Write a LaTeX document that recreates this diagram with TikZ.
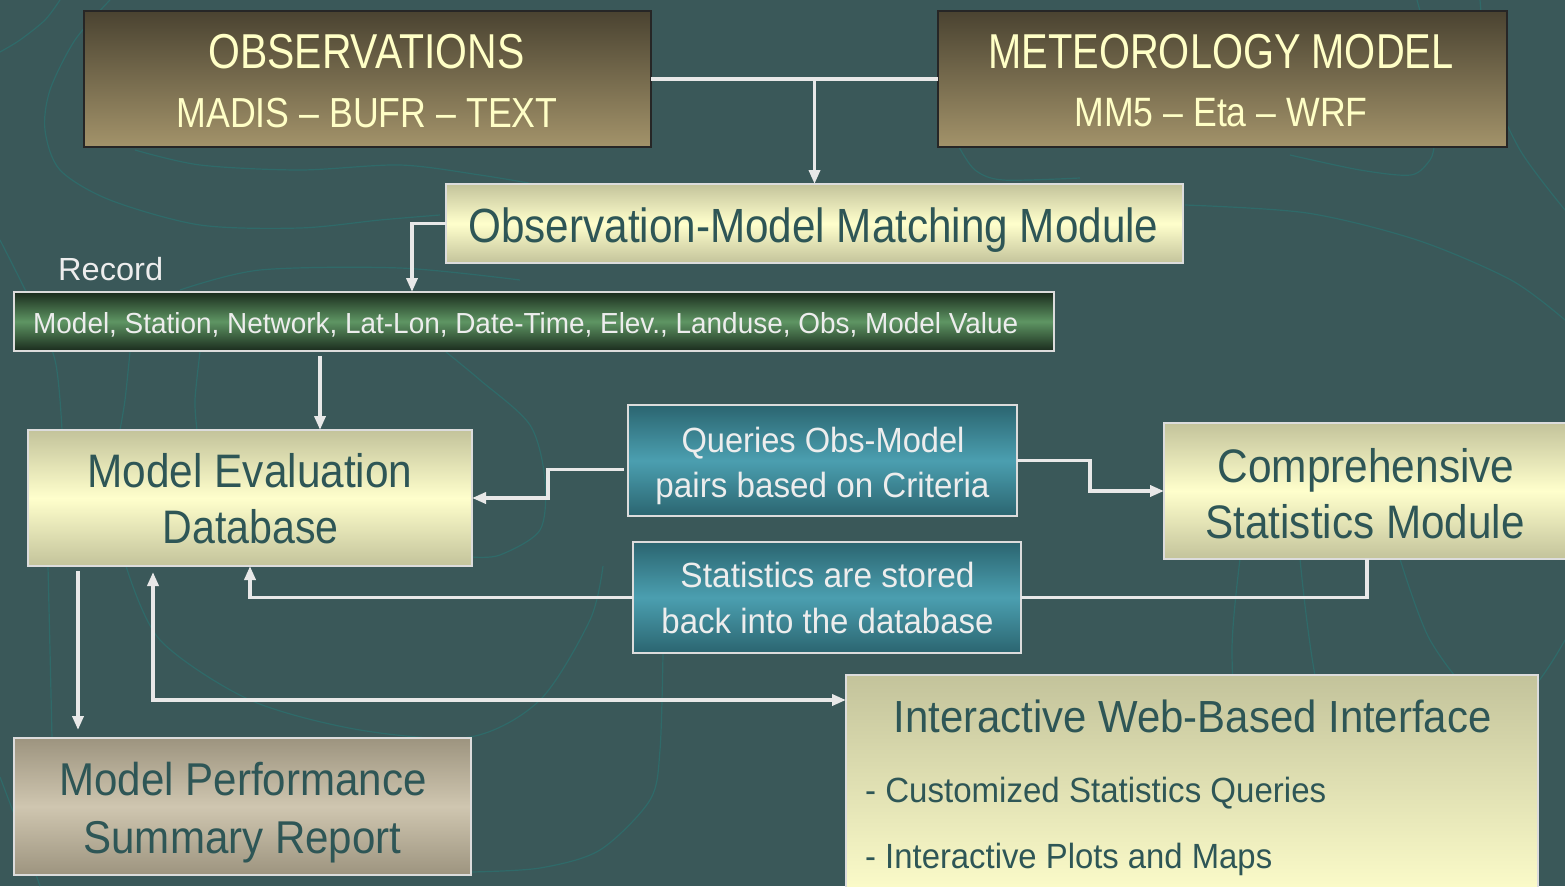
\documentclass[tikz,border=0pt]{standalone}
\usepackage{graphicx}
\usepackage{fontspec}
\setmainfont{Liberation Sans}[FakeStretch=0.82]
\usetikzlibrary{arrows.meta}

\definecolor{bg}{HTML}{3A5859}
\definecolor{contourc}{HTML}{2F6A69}
\definecolor{brownTop}{HTML}{4A4331}
\definecolor{brownBot}{HTML}{A3936A}
\definecolor{brownTxt}{HTML}{FFFFC6}
\definecolor{creamEdge}{HTML}{C3C39B}
\definecolor{creamMid}{HTML}{FFFFCC}
\definecolor{darkTxt}{HTML}{2E5656}
\definecolor{recEdge}{HTML}{1A2B1D}
\definecolor{recMid}{HTML}{5E9563}
\definecolor{tealEdge}{HTML}{2B6570}
\definecolor{tealMid}{HTML}{4B9FB0}
\definecolor{perfEdge}{HTML}{9D947F}
\definecolor{perfMid}{HTML}{CFC6B0}
\definecolor{edgeGray}{HTML}{DCDCDC}
\definecolor{lightTxt}{HTML}{EDEDED}
\definecolor{wireC}{HTML}{E8E8E8}

\newcommand\pxfont[1]{\fontsize{#1}{#1}\selectfont}
% set a line of text to a given width, keeping its height
\newcommand\fitw[2]{\resizebox{#1pt}{\height}{#2}}

\begin{document}
\begin{tikzpicture}[x=1pt,y=-1pt,
  box/.style={rectangle, inner sep=0pt, outer sep=0pt, line width=2.5pt},
  brownbox/.style={box, draw=black!85, top color=brownTop, bottom color=brownBot},
  creambox/.style={box, draw=edgeGray, top color=creamEdge, bottom color=creamEdge, middle color=creamMid},
  recbar/.style={box, draw=edgeGray, top color=recEdge, bottom color=recEdge, middle color=recMid},
  tealbox/.style={box, draw=edgeGray, top color=tealEdge, bottom color=tealEdge, middle color=tealMid},
  perfbox/.style={box, draw=edgeGray, top color=perfEdge, bottom color=perfEdge, middle color=perfMid},
  webbox/.style={box, draw=edgeGray, top color=creamEdge, bottom color=creamMid},
  txt/.style={anchor=base, inner sep=0pt},
  ltxt/.style={anchor=base west, inner sep=0pt},
  wire/.style={draw=wireC, line width=3.5pt},
  arr/.style={wire, -{Triangle[length=14pt,width=11pt]}},
  arrboth/.style={wire, {Triangle[length=14pt,width=11pt]}-{Triangle[length=14pt,width=11pt]}},
  contour/.style={draw=contourc, line width=1.2pt}
]
\useasboundingbox (0,0) rectangle (1565,886);
\fill[bg] (0,0) rectangle (1565,886);
\clip (0,0) rectangle (1565,886);

% faint contour lines of the backdrop
\draw[contour] plot[smooth] coordinates {(0,52) (20,40) (45,20) (60,0)};
\draw[contour] plot[smooth] coordinates {(110,0) (75,40) (50,90) (45,130) (60,170) (110,200) (200,225) (300,228) (380,220) (440,215)};
\draw[contour] plot[smooth] coordinates {(135,150) (200,165) (300,170) (400,165) (480,175) (540,185)};
\draw[contour] plot[smooth] coordinates {(0,240) (30,300) (55,360) (62,430)};
\draw[contour] plot[smooth] coordinates {(130,352) (125,400) (120,430)};
\draw[contour] plot[smooth] coordinates {(200,352) (195,400) (197,430)};
\draw[contour] plot[smooth] coordinates {(180,290) (260,270) (400,268) (520,280)};
\draw[contour] plot[smooth] coordinates {(446,352) (480,380) (530,425) (545,480) (540,530) (500,555) (472,557)};
\draw[contour] plot[smooth] coordinates {(959,147) (975,170) (1003,180) (1080,178)};
\draw[contour] plot[smooth] coordinates {(1290,155) (1360,170) (1411,175) (1430,160) (1434,147)};
\draw[contour] plot[smooth] coordinates {(1417,0) (1420,11)};
\draw[contour] plot[smooth] coordinates {(1480,0) (1490,80) (1520,150) (1565,210)};
\draw[contour] plot[smooth] coordinates {(1185,205) (1307,213) (1417,240) (1511,280) (1565,320)};
\draw[contour] plot[smooth] coordinates {(1240,559) (1232,650) (1240,760) (1270,886)};
\draw[contour] plot[smooth] coordinates {(1300,559) (1320,700) (1380,886)};
\draw[contour] plot[smooth] coordinates {(1400,559) (1430,640) (1480,700) (1530,690) (1565,640)};
\draw[contour] plot[smooth] coordinates {(126,566) (160,640) (250,700) (360,730) (470,737) (540,700) (590,620) (603,566)};
\draw[contour] plot[smooth] coordinates {(471,872) (540,868) (600,850) (650,800) (660,750) (663,653)};
\draw[contour] plot[smooth] coordinates {(48,566) (50,650) (52,738)};
\draw[contour] plot[smooth] coordinates {(0,777) (20,830) (40,886)};

% boxes
\node[brownbox, minimum width=567pt, minimum height=136pt] (obs) at (367.5,79) {};
\node[brownbox, minimum width=569pt, minimum height=136pt] (met) at (1222.5,79) {};
\node[creambox, minimum width=737pt, minimum height=79pt] (match) at (814.5,223.5) {};
\node[recbar, minimum width=1040pt, minimum height=59pt] (rec) at (534,321.5) {};
\node[creambox, minimum width=444pt, minimum height=136pt] (db) at (250,498) {};
\node[tealbox, minimum width=389pt, minimum height=111pt] (qry) at (822.5,460.5) {};
\node[creambox, minimum width=406pt, minimum height=136pt] (comp) at (1367,491) {};
\node[tealbox, minimum width=388pt, minimum height=111pt] (stat) at (827,597.5) {};
\node[perfbox, minimum width=457pt, minimum height=137pt] (perf) at (242.5,806.5) {};
\node[webbox, minimum width=692pt, minimum height=230pt] (web) at (1192,790) {};

% texts
\node[txt, text=brownTxt, font=\pxfont{49}] (obsA) at (366.5,68) {\fitw{316}{OBSERVATIONS}};
\node[txt, text=brownTxt, font=\pxfont{42}] (obsB) at (367,127) {\fitw{381}{MADIS \textendash{} BUFR \textendash{} TEXT}};
\node[txt, text=brownTxt, font=\pxfont{49}] (metA) at (1221,68) {\fitw{465}{METEOROLOGY MODEL}};
\node[txt, text=brownTxt, font=\pxfont{41}] (metB) at (1221,126) {\fitw{293}{MM5 \textendash{} Eta \textendash{} WRF}};
\node[txt, text=darkTxt, font=\pxfont{48}] (matchA) at (813.5,242) {\fitw{690}{Observation-Model Matching Module}};
\node[ltxt, text=lightTxt, font=\pxfont{32}] (recLabel) at (58,280) {\fitw{105}{Record}};
\node[ltxt, text=lightTxt, font=\pxfont{29}] (recA) at (33,333) {\fitw{985}{Model, Station, Network, Lat-Lon, Date-Time, Elev., Landuse, Obs, Model Value}};
\node[txt, text=darkTxt, font=\pxfont{47}] (dbA) at (250,487) {\fitw{325}{Model Evaluation}};
\node[txt, text=darkTxt, font=\pxfont{47}] (dbB) at (250.5,543) {\fitw{176}{Database}};
\node[txt, text=lightTxt, font=\pxfont{35}] (qryA) at (823,452) {\fitw{283}{Queries Obs-Model}};
\node[txt, text=lightTxt, font=\pxfont{35}] (qryB) at (822.5,497) {\fitw{334}{pairs based on Criteria}};
\node[txt, text=darkTxt, font=\pxfont{47}] (compA) at (1366,482) {\fitw{297}{Comprehensive}};
\node[txt, text=darkTxt, font=\pxfont{47}] (compB) at (1365,538) {\fitw{319}{Statistics Module}};
\node[txt, text=lightTxt, font=\pxfont{35}] (statA) at (827.5,587) {\fitw{294}{Statistics are stored}};
\node[txt, text=lightTxt, font=\pxfont{35}] (statB) at (827.5,633) {\fitw{332}{back into the database}};
\node[txt, text=darkTxt, font=\pxfont{46}] (perfA) at (243,795) {\fitw{367}{Model Performance}};
\node[txt, text=darkTxt, font=\pxfont{46}] (perfB) at (242.5,853) {\fitw{318}{Summary Report}};
\node[txt, text=darkTxt, font=\pxfont{45}] (webA) at (1192.5,732) {\fitw{598}{Interactive Web-Based Interface}};
\node[ltxt, text=darkTxt, font=\pxfont{35}] (webB) at (865,802) {\fitw{461}{- Customized Statistics Queries}};
\node[ltxt, text=darkTxt, font=\pxfont{35}] (webC) at (865,868) {\fitw{407}{- Interactive Plots and Maps}};

% connectors
\draw[wire] (obs.east) -- (met.west);
\coordinate (tee) at (match.north |- obs.east);
\draw[arr] (tee) -- (match.north);
\draw[arr] (match.west) -| ([xshift=398pt]rec.north west);
\coordinate (recout) at ([xshift=306pt,yshift=-5pt]rec.south west);
\draw[arr] (recout) -- (recout |- db.north);
\coordinate (qout) at ([xshift=-4pt,yshift=-9pt]qry.west);
\draw[arr] (qout) -- ++(-76,0) |- (db.east);
\draw[arr] (qry.east) -- ++(73,0) |- (comp.west);
\draw[wire] (comp.south) |- (stat.east);
\draw[arr] (stat.west) -| (db.south);
\coordinate (dbl) at ([xshift=50pt,yshift=-5pt]db.south west);
\draw[arr, shorten >=8pt] (dbl) -- (dbl |- perf.north);
\coordinate (dbm) at ([xshift=125pt,yshift=-6pt]db.south west);
\coordinate (webin) at ([yshift=-25pt]web.north west);
\draw[arrboth] (dbm) |- (webin);
\end{tikzpicture}
\end{document}
